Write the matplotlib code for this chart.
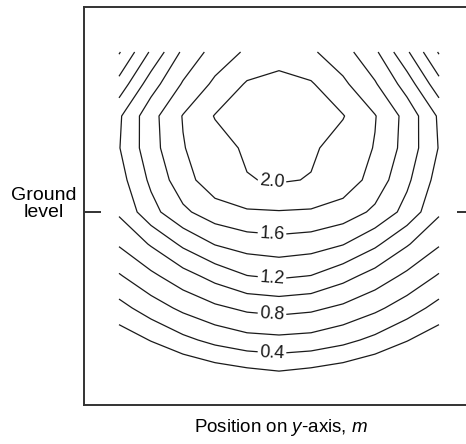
import numpy as np
import matplotlib.pyplot as plt

plt.rcParams['font.family'] = 'Liberation Sans'
plt.rcParams['mathtext.fontset'] = 'custom'
plt.rcParams['mathtext.rm'] = 'Liberation Sans'
plt.rcParams['mathtext.it'] = 'Liberation Sans:italic'

# grid positions in metres (horizontal = position on y-axis, vertical = height above ground)
y_pos = [-1.6, -1.28, -0.96, -0.64, -0.32, 0.0, 0.32, 0.64, 0.96, 1.28, 1.6]
z_pos = [1.6, 1.28, 0.96, 0.64, 0.32, 0.0, -0.32, -0.64, -0.96, -1.28, -1.6]

# field values, top row first
row0 = [0.58, 1.03, 1.44, 1.68, 1.83, 1.93, 1.83, 1.68, 1.44, 1.03, 0.58]
row1 = [0.87, 1.31, 1.62, 1.84, 2.02, 2.05, 2.02, 1.84, 1.62, 1.31, 0.87]
row2 = [1.17, 1.53, 1.81, 2.01, 2.07, 2.10, 2.07, 2.01, 1.81, 1.53, 1.17]
row3 = [1.19, 1.52, 1.79, 1.92, 2.03, 2.08, 2.03, 1.92, 1.79, 1.52, 1.19]
row4 = [1.12, 1.44, 1.72, 1.92, 1.99, 2.02, 1.99, 1.92, 1.72, 1.44, 1.12]
row5 = [1.03, 1.33, 1.56, 1.71, 1.78, 1.79, 1.78, 1.71, 1.56, 1.33, 1.03]
row6 = [0.82, 1.02, 1.24, 1.41, 1.49, 1.52, 1.49, 1.41, 1.24, 1.02, 0.82]
row7 = [0.58, 0.755, 0.92, 1.07, 1.195, 1.23, 1.195, 1.07, 0.92, 0.755, 0.58]
row8 = [0.33, 0.50, 0.645, 0.76, 0.84, 0.87, 0.84, 0.76, 0.645, 0.50, 0.33]
row9 = [0.08, 0.21, 0.35, 0.457, 0.53, 0.55, 0.53, 0.457, 0.35, 0.21, 0.08]
row10 = [-0.15, -0.05, 0.01, 0.094, 0.15, 0.19, 0.15, 0.094, 0.01, -0.05, -0.15]

field = np.array([row0, row1, row2, row3, row4, row5, row6, row7, row8, row9, row10])

plain_levels = [0.2, 0.6, 1.0, 1.4, 1.8]
label_levels = [0.4, 0.8, 1.2, 1.6, 2.0]
label_y = -0.07

fig = plt.figure(figsize=(4.66, 4.44), dpi=100)
ax = fig.add_axes([84 / 466, 39 / 444, 390 / 466, 398 / 444])

ax.contour(y_pos, z_pos, field, levels=plain_levels, colors='#1a1a1a', linewidths=0.9)
cs = ax.contour(y_pos, z_pos, field, levels=label_levels, colors='#1a1a1a', linewidths=0.9)


def bottom_crossing(i):
    # lowest point where contour i crosses the label column
    best = None
    for seg in cs.allsegs[i]:
        for (x0, z0), (x1, z1) in zip(seg[:-1], seg[1:]):
            if x0 != x1 and (x0 - label_y) * (x1 - label_y) <= 0:
                z = z0 + (z1 - z0) * (label_y - x0) / (x1 - x0)
                if best is None or z < best:
                    best = z
    return best


spots = [(label_y, bottom_crossing(i)) for i in range(len(label_levels))]
ax.clabel(cs, manual=spots, fmt='%.1f', fontsize=13, inline=True, inline_spacing=5)

ax.set_xlim(-1.95, 1.95)
ax.set_ylim(-1.93, 2.05)
ax.set_xticks([])
ax.set_yticks([0])
ax.tick_params(axis='y', direction='in', length=12, width=1.3, color='#222222',
               left=True, right=True, labelleft=False)
for s in ax.spines.values():
    s.set_linewidth(1.4)
    s.set_color('#333333')

fig.text(44 / 466, 1 - 204 / 444, 'Ground\nlevel', ha='center', va='center',
         fontsize=14, linespacing=1.0)
fig.text(281 / 466, 1 - 427 / 444, 'Position on $y$-axis, $m$', ha='center',
         va='center', fontsize=13.5)

fig.savefig('out.png', dpi=100)
